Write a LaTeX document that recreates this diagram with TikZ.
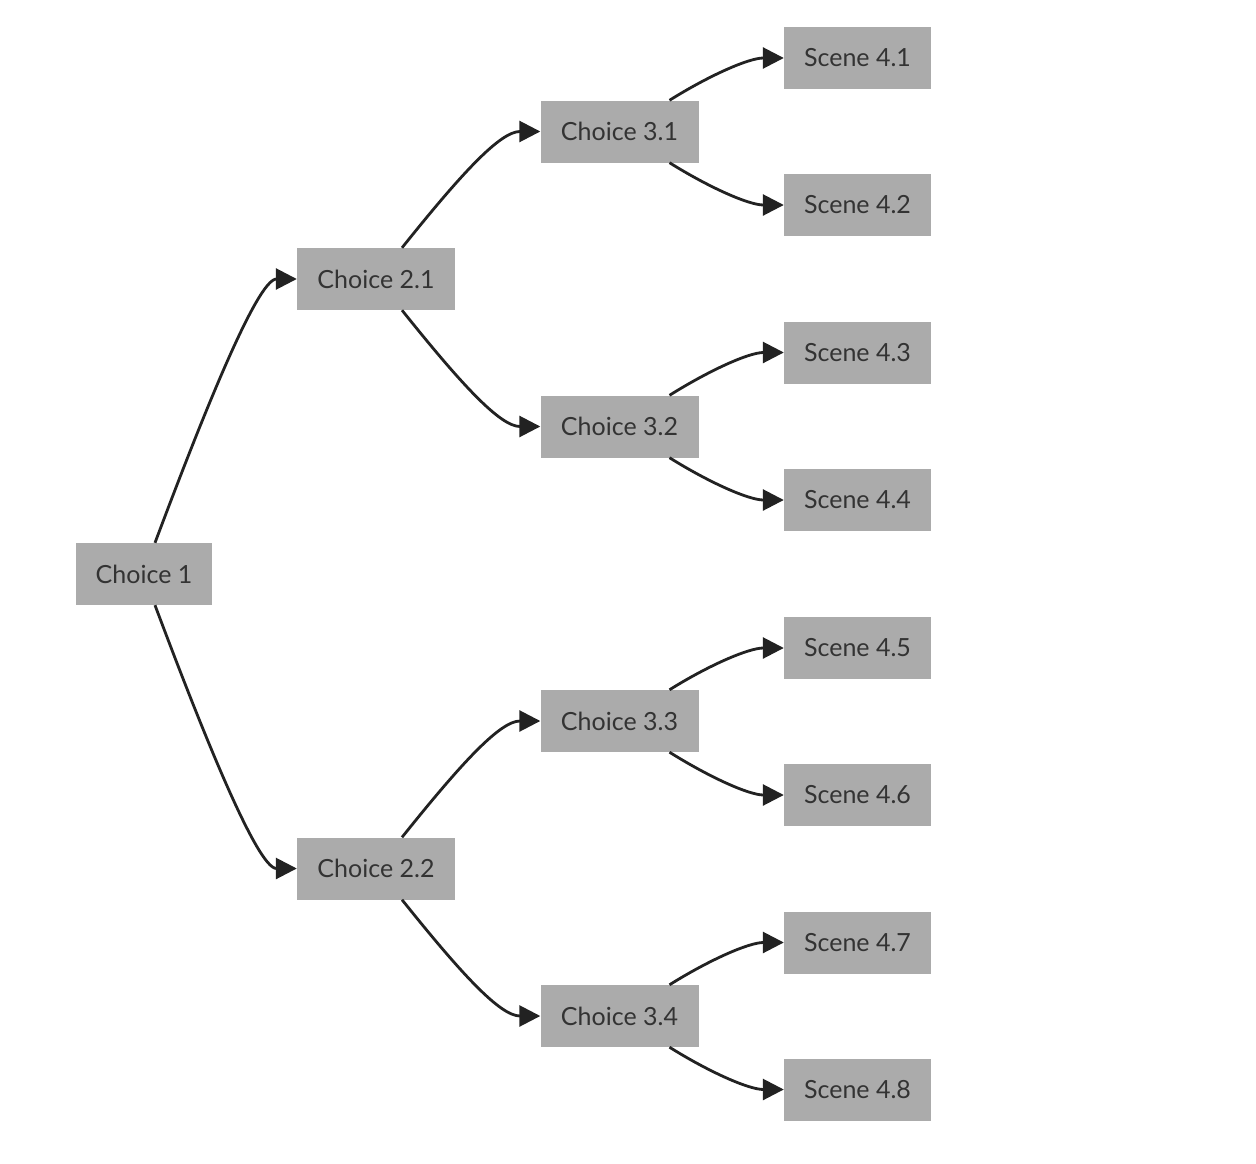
\documentclass[tikz,border=0pt]{standalone}
\usepackage{fontspec}
\setmainfont{Lato}
\usetikzlibrary{arrows.meta}
\begin{document}
\begin{tikzpicture}[x=1pt,y=-1pt,
  box/.style={fill={rgb,255:red,171;green,171;blue,171},text={rgb,255:red,51;green,51;blue,51},font=\fontsize{25}{30}\selectfont,inner sep=0pt,minimum height=62pt},
  ch/.style={box,minimum width=158pt},
  sc/.style={box,minimum width=147pt},
  conn/.style={line width=2.8pt,draw={rgb,255:red,34;green,34;blue,34},-{Triangle[length=21pt,width=21pt]}}]
\useasboundingbox (0,0) rectangle (1256,1164);
\node[box,minimum width=136pt] (c1) at (144,574) {Choice 1};
\node[ch] (c21) at (376,279) {Choice 2.1};
\node[ch] (c22) at (376,868.5) {Choice 2.2};
\node[ch] (c31) at (619.5,131.5) {Choice 3.1};
\node[ch] (c32) at (619.5,426.5) {Choice 3.2};
\node[ch] (c33) at (619.5,721) {Choice 3.3};
\node[ch] (c34) at (619.5,1016) {Choice 3.4};
\node[sc] (s1) at (857.5,58) {Scene 4.1};
\node[sc] (s2) at (857.5,205) {Scene 4.2};
\node[sc] (s3) at (857.5,352.5) {Scene 4.3};
\node[sc] (s4) at (857.5,500) {Scene 4.4};
\node[sc] (s5) at (857.5,648) {Scene 4.5};
\node[sc] (s6) at (857.5,795) {Scene 4.6};
\node[sc] (s7) at (857.5,942.5) {Scene 4.7};
\node[sc] (s8) at (857.5,1089.5) {Scene 4.8};
% level 1
\draw[conn] ([xshift=11pt]c1.north) .. controls +(45,-120) and +(-40,0) .. (c21.west);
\draw[conn] ([xshift=11pt]c1.south) .. controls +(45,120) and +(-40,0) .. (c22.west);
% level 2
\foreach \p/\a/\b in {c21/c31/c32,c22/c33/c34}{
  \draw[conn] ([xshift=26pt]\p.north) .. controls +(60,-75) and +(-40,0) .. (\a.west);
  \draw[conn] ([xshift=26pt]\p.south) .. controls +(60,75) and +(-40,0) .. (\b.west);
}
% level 3
\foreach \p/\a/\b in {c31/s1/s2,c32/s3/s4,c33/s5/s6,c34/s7/s8}{
  \draw[conn] ([xshift=50pt]\p.north) .. controls +(40,-25) and +(-35,0) .. (\a.west);
  \draw[conn] ([xshift=50pt]\p.south) .. controls +(40,25) and +(-35,0) .. (\b.west);
}
\end{tikzpicture}
\end{document}
